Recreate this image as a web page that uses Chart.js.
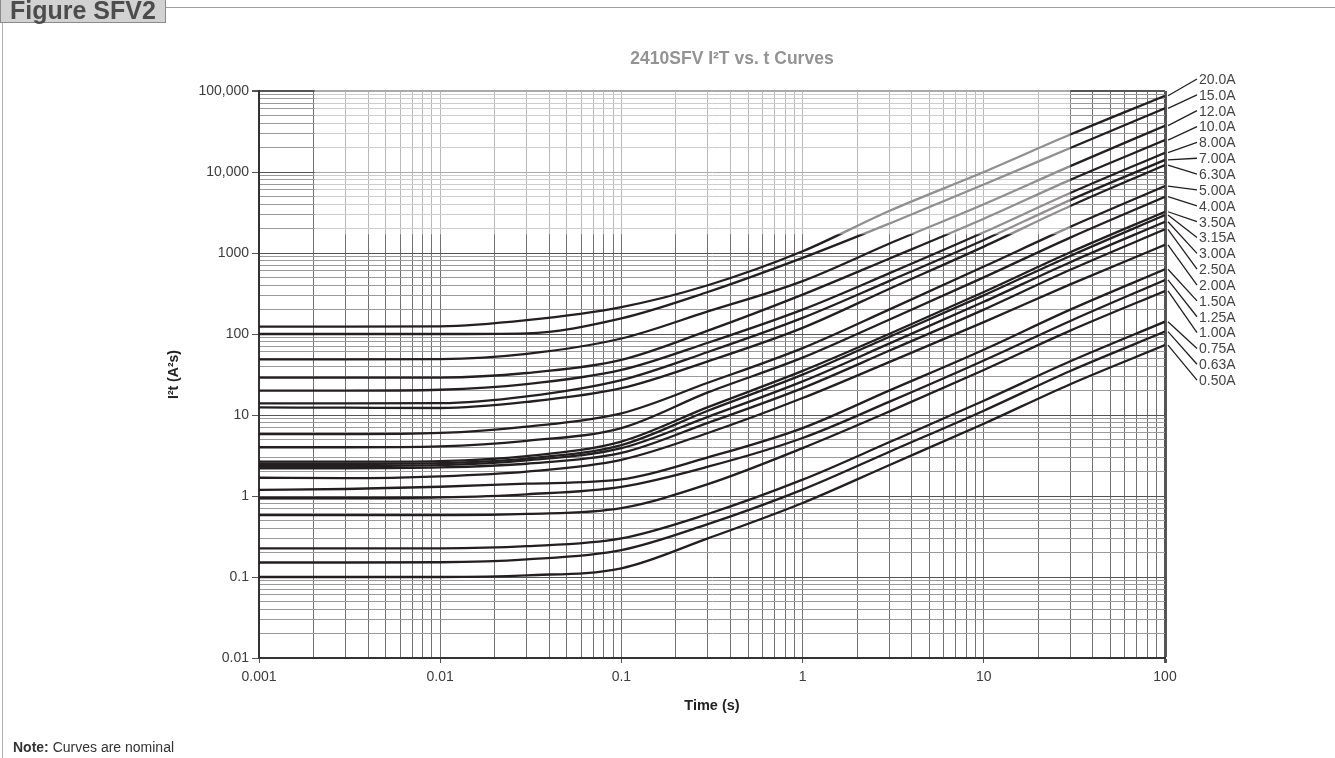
<!DOCTYPE html>
<html>
<head>
<meta charset="utf-8">
<script src="https://cdn.jsdelivr.net/npm/chart.js@4.4.1/dist/chart.umd.min.js"></script>
<style>
  html, body { margin: 0; padding: 0; background: #fff; }
  body { width: 1335px; height: 758px; position: relative; overflow: hidden; font-family: "Liberation Sans", Arial, sans-serif; }
  #fig { position: absolute; left: 0; top: -5px; height: 28px; width: 166px; background: #d2d2d2; border: 1px solid #8a8a8a; box-sizing: border-box;
         font-weight: bold; font-size: 25px; color: #4c4c4c; line-height: 28px; padding-left: 9px; z-index: 2; white-space: nowrap; }
  #hline { position: absolute; left: 166px; top: 7px; width: 1169px; height: 1px; background: #a0a0a0; }
  #vline { position: absolute; left: 2px; top: 22px; width: 1px; height: 736px; background: #b0b0b0; }
  #note { position: absolute; left: 13px; top: 739px; font-size: 14px; color: #333; }
  #title { position: absolute; left: 532px; top: 48px; width: 400px; text-align: center; font-weight: bold; font-size: 17.5px; line-height: 20px; color: #939393; z-index: 2; }
  #wrap { position: absolute; left: 0; top: 0; width: 1335px; height: 758px; }
</style>
</head>
<body>
<div id="fig">Figure SFV2</div>
<div id="hline"></div>
<div id="vline"></div>
<div id="wrap"><canvas id="fuseChart" width="1335" height="758"></canvas></div>
<div id="title">2410SFV I²T vs. t Curves</div>
<div id="note"><b>Note:</b> Curves are nominal</div>
<script>
// time points (s) where each curve was read
const times = [0.001, 0.003, 0.01, 0.03, 0.1, 0.3, 1, 3, 10, 30, 100];

// I2t (A2s) readings per rating
const i20  = [123, 123, 124, 148, 215, 400, 1050, 3300, 10000, 29000, 87500];
const i15  = [100, 100, 100, 102, 156, 330, 870, 2300, 7000, 19800, 61100];
const i12  = [48.7, 48.5, 49, 57, 88, 190, 450, 1300, 4000, 11800, 37300];
const i10  = [28.9, 28.9, 29, 33, 48, 110, 306, 850, 2650, 8000, 24800];
const i8   = [20, 20, 20.5, 24, 36, 78, 200, 560, 1800, 5500, 17300];
const i7   = [13.9, 13.9, 14, 17, 27, 60, 158, 450, 1450, 4500, 14100];
const i63  = [12.4, 12.3, 12.2, 14.5, 21.4, 46, 119, 360, 1200, 3800, 12200];
const i5   = [5.8, 5.8, 6.0, 7.2, 10.5, 25, 67, 200, 680, 2100, 6710];
const i4   = [4.0, 4.0, 4.1, 4.8, 6.9, 19, 51, 150, 500, 1550, 4950];
const i35  = [2.65, 2.65, 2.7, 3.1, 4.7, 12.5, 35, 100, 330, 1020, 3230];
const i315 = [2.5, 2.5, 2.55, 2.9, 4.26, 11.3, 31.5, 92, 300, 920, 2940];
const i3   = [2.35, 2.35, 2.4, 2.75, 3.9, 9.5, 26, 76, 250, 770, 2430];
const i25  = [2.2, 2.2, 2.25, 2.5, 3.4, 8, 21.5, 62, 200, 620, 1960];
const i2   = [1.68, 1.66, 1.75, 2.0, 2.8, 6.0, 16.2, 45, 140, 410, 1260];
const i15a = [1.19, 1.22, 1.3, 1.42, 1.6, 3.0, 6.9, 20, 64, 200, 630];
const i125 = [0.94, 0.94, 0.96, 1.05, 1.3, 2.3, 5.2, 14.5, 47, 145, 465];
const i1   = [0.58, 0.58, 0.58, 0.6, 0.71, 1.4, 3.9, 11, 36, 110, 340];
const i075 = [0.226, 0.226, 0.226, 0.24, 0.30, 0.6, 1.59, 4.6, 15, 46, 142];
const i063 = [0.151, 0.151, 0.152, 0.165, 0.215, 0.45, 1.2, 3.5, 11.3, 35, 107];
const i05  = [0.1, 0.1, 0.1, 0.105, 0.128, 0.3, 0.82, 2.4, 7.8, 24, 73];

const ratings = ["20.0A", "15.0A", "12.0A", "10.0A", "8.00A", "7.00A", "6.30A", "5.00A", "4.00A", "3.50A",
                 "3.15A", "3.00A", "2.50A", "2.00A", "1.50A", "1.25A", "1.00A", "0.75A", "0.63A", "0.50A"];
const series = [i20, i15, i12, i10, i8, i7, i63, i5, i4, i35, i315, i3, i25, i2, i15a, i125, i1, i075, i063, i05];

// axis ticks
const xTickValues = [0.001, 0.01, 0.1, 1, 10, 100];
const xTickLabels = ["0.001", "0.01", "0.1", "1", "10", "100"];
const yTickValues = [0.01, 0.1, 1, 10, 100, 1000, 10000, 100000];
const yTickLabels = ["0.01", "0.1", "1", "10", "100", "1000", "10,000", "100,000"];

function decadeTicks(values) {
  const out = [];
  for (let i = 0; i < values.length - 1; i++) {
    for (let m = 1; m < 10; m++) {
      out.push({ value: parseFloat((m * values[i]).toPrecision(6)), major: m === 1 });
    }
  }
  out.push({ value: values[values.length - 1], major: true });
  return out;
}

function labelFor(values, labels) {
  return (val, i, ticks) => {
    if (!ticks[i].major) return "";
    const k = values.findIndex(v => Math.abs(Math.log10(v) - Math.log10(val)) < 1e-6);
    return k >= 0 ? labels[k] : "";
  };
}

const datasets = series.map((vals, i) => ({
  label: ratings[i],
  data: times.map((t, j) => ({ x: t, y: vals[j] })),
  borderColor: "#231f20",
  borderWidth: 2.3,
  pointRadius: 0,
  fill: false,
  cubicInterpolationMode: "monotone"
}));

// lighter block in the upper part of the sheet
const fadeBlock = {
  id: "fadeBlock",
  afterDatasetsDraw(chart) {
    const { ctx, chartArea, scales } = chart;
    const x1 = scales.x.getPixelForValue(0.002) + 1;
    const x2 = scales.x.getPixelForValue(30);
    const y2 = scales.y.getPixelForValue(1700);
    ctx.save();
    ctx.fillStyle = "rgba(255,255,255,0.5)";
    ctx.fillRect(x1, chartArea.top - 1, x2 - x1, y2 - chartArea.top + 1);
    ctx.restore();
  }
};

// rating labels with leader lines on the right
const leaderLabels = {
  id: "leaderLabels",
  afterDatasetsDraw(chart) {
    const { ctx, chartArea } = chart;
    const n = chart.data.datasets.length;
    const firstY = chartArea.top - 12;
    const step = 15.85;
    ctx.save();
    ctx.font = "14px 'Liberation Sans', Arial, sans-serif";
    ctx.fillStyle = "#444";
    ctx.strokeStyle = "#231f20";
    ctx.lineWidth = 1.3;
    ctx.textBaseline = "middle";
    for (let i = 0; i < n; i++) {
      const pts = chart.getDatasetMeta(i).data;
      const end = pts[pts.length - 1];
      const ly = firstY + i * step;
      const x0 = chartArea.right + 3;
      ctx.beginPath();
      ctx.moveTo(x0, end.y);
      ctx.lineTo(x0 + 29, ly);
      ctx.stroke();
      ctx.fillText(chart.data.datasets[i].label, x0 + 31, ly + 1);
    }
    ctx.restore();
  }
};

const canvas = document.getElementById("fuseChart");

new Chart(canvas, {
  type: "line",
  data: { datasets },
  plugins: [fadeBlock, leaderLabels],
  options: {
    responsive: false,
    animation: false,
    layout: { padding: { left: 165, right: 170, top: 91, bottom: 40 } },
    plugins: {
      legend: { display: false },
      tooltip: { enabled: false },
      title: { display: false }
    },
    scales: {
      x: {
        type: "logarithmic",
        min: 0.001,
        max: 100,
        afterBuildTicks: s => { s.ticks = decadeTicks(xTickValues); },
        afterFit: s => { s.height = 60; },
        ticks: {
          autoSkip: false,
          maxRotation: 0,
          padding: 6,
          color: "#3c3c3c",
          font: { family: "'Liberation Sans', Arial, sans-serif", size: 14 },
          callback: labelFor(xTickValues, xTickLabels)
        },
        grid: {
          color: c => (c.tick && c.tick.value === 100 ? "#555" : "#727272"),
          lineWidth: c => (c.tick && c.tick.value === 100 ? 3 : 1),
          tickLength: 5,
          tickColor: c => (c.tick && c.tick.major ? "#555" : "rgba(0,0,0,0)")
        },
        border: { color: "#333", width: 2 },
        title: {
          display: true,
          text: "Time (s)",
          color: "#222",
          font: { family: "'Liberation Sans', Arial, sans-serif", size: 14.5, weight: "bold" },
          padding: { top: 0, bottom: 3 }
        }
      },
      y: {
        type: "logarithmic",
        min: 0.01,
        max: 100000,
        afterBuildTicks: s => { s.ticks = decadeTicks(yTickValues); },
        afterFit: s => { s.width = 94; },
        ticks: {
          autoSkip: false,
          padding: 3,
          color: "#3c3c3c",
          font: { family: "'Liberation Sans', Arial, sans-serif", size: 14 },
          callback: labelFor(yTickValues, yTickLabels)
        },
        grid: {
          color: c => (c.tick && c.tick.major ? "#555" : "#9a9a9a"),
          lineWidth: c => (c.tick && c.tick.value === 100000 ? 2 : 1),
          tickLength: 7,
          tickColor: c => (c.tick && c.tick.major ? "#555" : "rgba(0,0,0,0)")
        },
        border: { color: "#333", width: 2 },
        title: {
          display: true,
          text: "I\u00b2t (A\u00b2s)",
          color: "#222",
          font: { family: "'Liberation Sans', Arial, sans-serif", size: 14, weight: "bold" },
          padding: { top: 1, bottom: 0 }
        }
      }
    }
  }
});
</script>
</body>
</html>
